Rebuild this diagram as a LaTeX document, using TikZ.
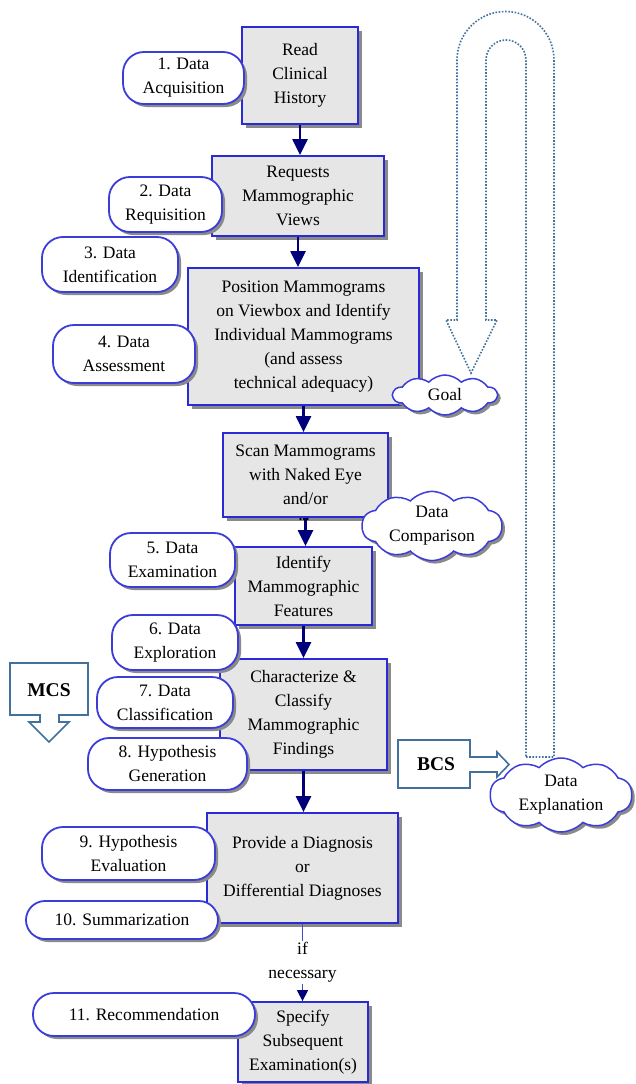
\documentclass[tikz,border=0pt]{standalone}
\usepackage{fontspec}
\setmainfont{Liberation Serif}
\usetikzlibrary{shapes.symbols,shadows,arrows.meta,calc}
\definecolor{boxblue}{HTML}{2B2BD6}
\definecolor{pillblue}{HTML}{3C3CD8}
\definecolor{boxgray}{HTML}{E6E6E6}
\definecolor{shadowgray}{HTML}{8A8A8A}
\definecolor{arrownavy}{HTML}{00007A}
\definecolor{stubblue}{HTML}{4848C8}
\definecolor{steel}{HTML}{41719C}
\newcommand\mainsz{\fontsize{17.5}{24}\selectfont}
\tikzset{
  shadowed/.style={drop shadow={shadow xshift=4pt, shadow yshift=-4pt, fill=shadowgray, opacity=1}},
  stepbox/.style={draw=boxblue, line width=1.8pt, fill=boxgray, align=center, font=\mainsz, inner sep=0pt, shadowed},
  pill/.style={draw=pillblue, line width=1.8pt, fill=white, rounded corners=21pt, align=center, font=\mainsz, inner sep=0pt, drop shadow={shadow xshift=3pt, shadow yshift=-3pt, fill=shadowgray, opacity=1}},
  cloudy/.style={cloud, cloud puffs=10, cloud puff arc=95, cloud ignores aspect, draw=pillblue, line width=1.5pt, fill=white, align=center, font=\mainsz, inner sep=0pt, drop shadow={shadow xshift=3pt, shadow yshift=-3pt, fill=shadowgray, opacity=1}},
  flow/.style={draw=arrownavy, line width=2.3pt, -{Triangle[length=16pt,width=15pt]}},
  thinflow/.style={draw=stubblue, line width=1.3pt, -{Triangle[length=11pt,width=11pt,color=arrownavy,fill=arrownavy]}},
  callout/.style={draw=steel, line width=1.6pt, fill=white},
  uarrow/.style={draw=steel, line width=1.6pt, dash pattern=on 1.6pt off 1.6pt},
  calloutlabel/.style={font=\fontsize{19.5}{21}\selectfont\bfseries, inner sep=0pt},
}
\begin{document}
\begin{tikzpicture}[x=1pt,y=-1pt]
\useasboundingbox[fill=white] (0,0) rectangle (635,1084);

% U-shaped dotted arrow
\draw[uarrow] (526,757) -- (554,757) -- (554,60) arc[start angle=0,end angle=180,radius=48.5pt]
  -- (457,320) -- (446,320) -- (471,373) -- (497,320) -- (486,320) -- (486,60)
  arc[start angle=180,end angle=0,radius=20pt] -- cycle;

% process boxes
\node[stepbox, minimum width=116, minimum height=97] (b1) at (300,75.5) {Read\\Clinical\\History};
\node[stepbox, minimum width=172, minimum height=80] (b2) at (298,196) {Requests\\Mammographic\\Views};
\node[stepbox, minimum width=231, minimum height=137] (b3) at (303.5,336.5) {Position Mammograms\\on Viewbox and Identify\\Individual Mammograms\\(and assess\\technical adequacy)};
\node[stepbox, minimum width=165, minimum height=84] (b4) at (305.5,475) {Scan Mammograms\\with Naked Eye\\and/or};
\node[stepbox, minimum width=137, minimum height=78] (b5) at (303.5,586) {Identify\\Mammographic\\Features};
\node[stepbox, minimum width=167, minimum height=111] (b6) at (303.5,714.5) {Characterize \&\\Classify\\Mammographic\\Findings};
\node[stepbox, minimum width=191, minimum height=110] (b7) at (302.5,868) {Provide a Diagnosis\\or\\Differential Diagnoses};
\node[stepbox, minimum width=130, minimum height=80] (b8) at (303,1042) {Specify\\Subsequent\\Examination(s)};

% flow arrows
\draw[flow] (b1.south) -- (b1.south |- b2.north);
\draw[flow] (b2.south) -- (b2.south |- b3.north);
\draw[flow] (b3.south) -- (b3.south |- b4.north);
\draw[flow] (b4.south) -- (b4.south |- b5.north);
\draw[flow] (b5.south) -- (b5.south |- b6.north);
\draw[flow] (b6.south) -- (b6.south |- b7.north);
\draw[thinflow] (b7.south) -- node[fill=white, font=\mainsz, align=center, inner sep=1pt] (ifn) {if\\necessary} (b7.south |- b8.north);

\node[font=\fontsize{14}{14}\selectfont\bfseries, inner sep=0pt] (dots) at (304,520) {...};

% pills
\node[pill, minimum width=121, minimum height=52] (p1) at (183.5,78) {1. Data\\Acquisition};
\node[pill, minimum width=113, minimum height=55] (p2) at (165.5,204.5) {2. Data\\Requisition};
\node[pill, minimum width=136, minimum height=55] (p3) at (110,264.5) {3. Data\\Identification};
\node[pill, minimum width=142, minimum height=58] (p4) at (124,354) {4. Data\\Assessment};
\node[pill, minimum width=125, minimum height=54] (p5) at (172.5,560) {5. Data\\Examination};
\node[pill, minimum width=126, minimum height=55] (p6) at (175,642.5) {6. Data\\Exploration};
\node[pill, minimum width=136, minimum height=51] (p7) at (165,702.5) {7. Data\\Classification};
\node[pill, minimum width=159, minimum height=52] (p8) at (167.5,764) {8. Hypothesis\\Generation};
\node[pill, minimum width=173, minimum height=53] (p9) at (128.5,853.5) {9. Hypothesis\\Evaluation};
\node[pill, rounded corners=19pt, minimum width=192, minimum height=38] (p10) at (122,920) {10. Summarization};
\node[pill, rounded corners=21pt, minimum width=222, minimum height=43] (p11) at (144,1014.5) {11. Recommendation};

% clouds
\node[cloudy, minimum width=104, minimum height=40] (goal) at (445,395) {Goal};
\node[cloudy, minimum width=140, minimum height=68] (comp) at (432,526) {Data\\Comparison};
\node[cloudy, minimum width=142, minimum height=74] (expl) at (561,795) {Data\\Explanation};

% MCS / BCS callouts
\draw[callout] (10,663) -- (88,663) -- (88,715) -- (59,715) -- (59,722) -- (69,722) -- (49,742)
  -- (29,722) -- (40,722) -- (40,715) -- (10,715) -- cycle;
\node[calloutlabel] (mcs) at (49,690) {MCS};
\draw[callout] (398,740) -- (470,740) -- (470,757) -- (497,757) -- (497,752) -- (509,764.5)
  -- (497,777) -- (497,772) -- (470,772) -- (470,788) -- (398,788) -- cycle;
\node[calloutlabel] (bcs) at (436,764) {BCS};
\end{tikzpicture}
\end{document}
